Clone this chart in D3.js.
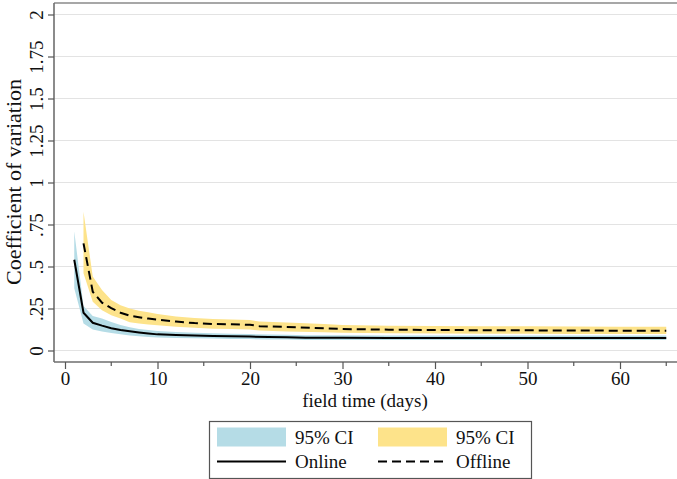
<!DOCTYPE html>
<html><head><meta charset="utf-8">
<script src="https://cdn.jsdelivr.net/npm/d3@7"></script>
<style>body{margin:0;background:#fff}svg{display:block}text{font-family:"Liberation Serif","Times New Roman",serif}</style>
</head><body>
<svg id="c" width="677" height="479"></svg>
<script>
// ---- data ----
const onlineDays = [1,2,3,4,5,6,7,8,9,10,12,14,16,18,20,22,24,26,30,35,40,45,50,55,60,65];
const onlineMean = [0.54,0.225,0.165,0.148,0.133,0.122,0.114,0.107,0.101,0.096,0.092,0.089,0.087,0.085,0.083,0.080,0.079,0.076,0.076,0.075,0.075,0.075,0.075,0.075,0.075,0.075];
const onlineLo   = [0.37,0.16,0.125,0.113,0.104,0.096,0.09,0.085,0.081,0.078,0.075,0.073,0.071,0.069,0.068,0.066,0.065,0.063,0.063,0.062,0.062,0.062,0.062,0.062,0.062,0.062];
const onlineHi   = [0.71,0.265,0.205,0.19,0.17,0.152,0.138,0.128,0.122,0.116,0.11,0.106,0.103,0.1,0.098,0.095,0.094,0.091,0.091,0.09,0.09,0.09,0.09,0.09,0.09,0.09];

const offlineDays = [2,3,4,5,6,7,8,9,10,12,14,16,18,20,21,24,28,30,35,40,45,50,55,60,65];
const offlineMean = [0.638,0.35,0.285,0.252,0.225,0.207,0.198,0.19,0.183,0.172,0.163,0.158,0.156,0.153,0.145,0.14,0.132,0.128,0.124,0.122,0.121,0.12,0.119,0.118,0.118];
const offlineLo   = [0.46,0.29,0.24,0.21,0.19,0.168,0.16,0.155,0.15,0.142,0.135,0.13,0.128,0.125,0.119,0.113,0.108,0.106,0.103,0.101,0.1,0.099,0.098,0.098,0.098];
const offlineHi   = [0.826,0.44,0.36,0.30,0.27,0.25,0.237,0.227,0.217,0.203,0.193,0.187,0.185,0.181,0.172,0.166,0.158,0.152,0.148,0.146,0.145,0.144,0.143,0.142,0.142];

const yTicks = [0,0.25,0.5,0.75,1,1.25,1.5,1.75,2];
const yTickLabels = ["0",".25",".5",".75","1","1.25","1.5","1.75","2"];
const xTicks = [0,10,20,30,40,50,60];
const xMinorTicks = [5,15,25,35,45,55,65];
const legendLabels = ["95% CI","95% CI","Online","Offline"];
const xTitle = "field time (days)";
const yTitle = "Coefficient of variation";

const colBlue = "#b5dce6", colYellow = "#fde38a";
const FONT = '"Liberation Serif","Times New Roman",serif';

// ---- chart ----
const svg = d3.select("#c");
const x = d3.scaleLinear().domain([0,65]).range([65, 666.25]);
const y = d3.scaleLinear().domain([0,2]).range([350.5, 14.5]);
const frameL = 54, frameT = 3, frameB = 362, frameR = 677;

// gridlines
svg.append("g").selectAll("line").data(yTicks).join("line")
  .attr("x1", frameL).attr("x2", frameR)
  .attr("y1", d=>y(d)).attr("y2", d=>y(d))
  .attr("stroke", "#e3e3e3").attr("stroke-width", 1.2);

// bands
const online = onlineDays.map((d,i)=>({d, m:onlineMean[i], lo:onlineLo[i], hi:onlineHi[i]}));
const offline = offlineDays.map((d,i)=>({d, m:offlineMean[i], lo:offlineLo[i], hi:offlineHi[i]}));
const area = d3.area().x(p=>x(p.d)).y0(p=>y(p.lo)).y1(p=>y(p.hi));
const line = d3.line().x(p=>x(p.d)).y(p=>y(p.m));

svg.append("path").datum(online).attr("d", area).attr("fill", colBlue);
svg.append("path").datum(offline).attr("d", area).attr("fill", colYellow);
svg.append("path").datum(online).attr("d", line).attr("fill","none").attr("stroke","#000").attr("stroke-width",2);
svg.append("path").datum(offline).attr("d", line).attr("fill","none").attr("stroke","#000").attr("stroke-width",2).attr("stroke-dasharray","9,5");

// frame
svg.append("line").attr("x1",frameL).attr("x2",frameR).attr("y1",frameT).attr("y2",frameT).attr("stroke","#8a8a8a").attr("stroke-width",1.6);

// y axis
const yAxis = svg.append("g").attr("transform",`translate(${frameL},0)`)
  .call(d3.axisLeft(y).tickValues(yTicks).tickFormat((d,i)=>yTickLabels[i]).tickSize(6).tickSizeOuter(0));
yAxis.attr("font-family", FONT);
yAxis.select(".domain").attr("d", `M0,${frameT}V${frameB}`).attr("stroke","#6e6e6e").attr("stroke-width",1.6);
yAxis.selectAll(".tick line").attr("stroke","#555").attr("stroke-width",1.2);
yAxis.selectAll(".tick text").attr("transform","rotate(-90)").attr("x",0).attr("y",-11).attr("dy","0")
  .attr("text-anchor","middle").attr("font-size",19).attr("fill","#111");

// x axis
const xAxis = svg.append("g").attr("transform",`translate(0,${frameB})`)
  .call(d3.axisBottom(x).tickValues(xTicks).tickSize(7).tickSizeOuter(0));
xAxis.attr("font-family", FONT);
xAxis.select(".domain").attr("d", `M${frameL},0H${frameR}`).attr("stroke","#6e6e6e").attr("stroke-width",1.6);
xAxis.selectAll(".tick line").attr("stroke","#555").attr("stroke-width",1.2);
xAxis.selectAll(".tick text").attr("font-size",19).attr("fill","#111").attr("y",10).attr("dy","0.71em");
svg.append("g").selectAll("line").data(xMinorTicks).join("line")
  .attr("x1",d=>x(d)).attr("x2",d=>x(d)).attr("y1",frameB).attr("y2",frameB+4)
  .attr("stroke","#555").attr("stroke-width",1.2);

// titles
svg.append("text").attr("x",365).attr("y",407).attr("text-anchor","middle").attr("font-size",19).attr("fill","#111").text(xTitle);
svg.append("text").attr("transform","translate(21,182) rotate(-90)").attr("text-anchor","middle").attr("font-size",22).attr("fill","#111").text(yTitle);

// legend
const lg = svg.append("g");
lg.append("rect").attr("x",209.5).attr("y",421.5).attr("width",322).attr("height",57).attr("fill","#fff").attr("stroke","#555").attr("stroke-width",1.2);
const items = [
  {x:217, row:0, type:"rect", col:colBlue, label:legendLabels[0]},
  {x:378, row:0, type:"rect", col:colYellow, label:legendLabels[1]},
  {x:217, row:1, type:"line", dash:null, label:legendLabels[2]},
  {x:378, row:1, type:"line", dash:"9,5", label:legendLabels[3]},
];
items.forEach(it=>{
  if(it.type==="rect"){
    lg.append("rect").attr("x",it.x).attr("y",427.5).attr("width",69).attr("height",19).attr("fill",it.col);
  } else {
    lg.append("line").attr("x1",it.x).attr("x2",it.x+69).attr("y1",461.5).attr("y2",461.5).attr("stroke","#000").attr("stroke-width",2).attr("stroke-dasharray",it.dash);
  }
  lg.append("text").attr("x",it.x+78).attr("y",it.row===0?444:468).attr("font-size",19).attr("fill","#111").text(it.label);
});
</script>
</body></html>
